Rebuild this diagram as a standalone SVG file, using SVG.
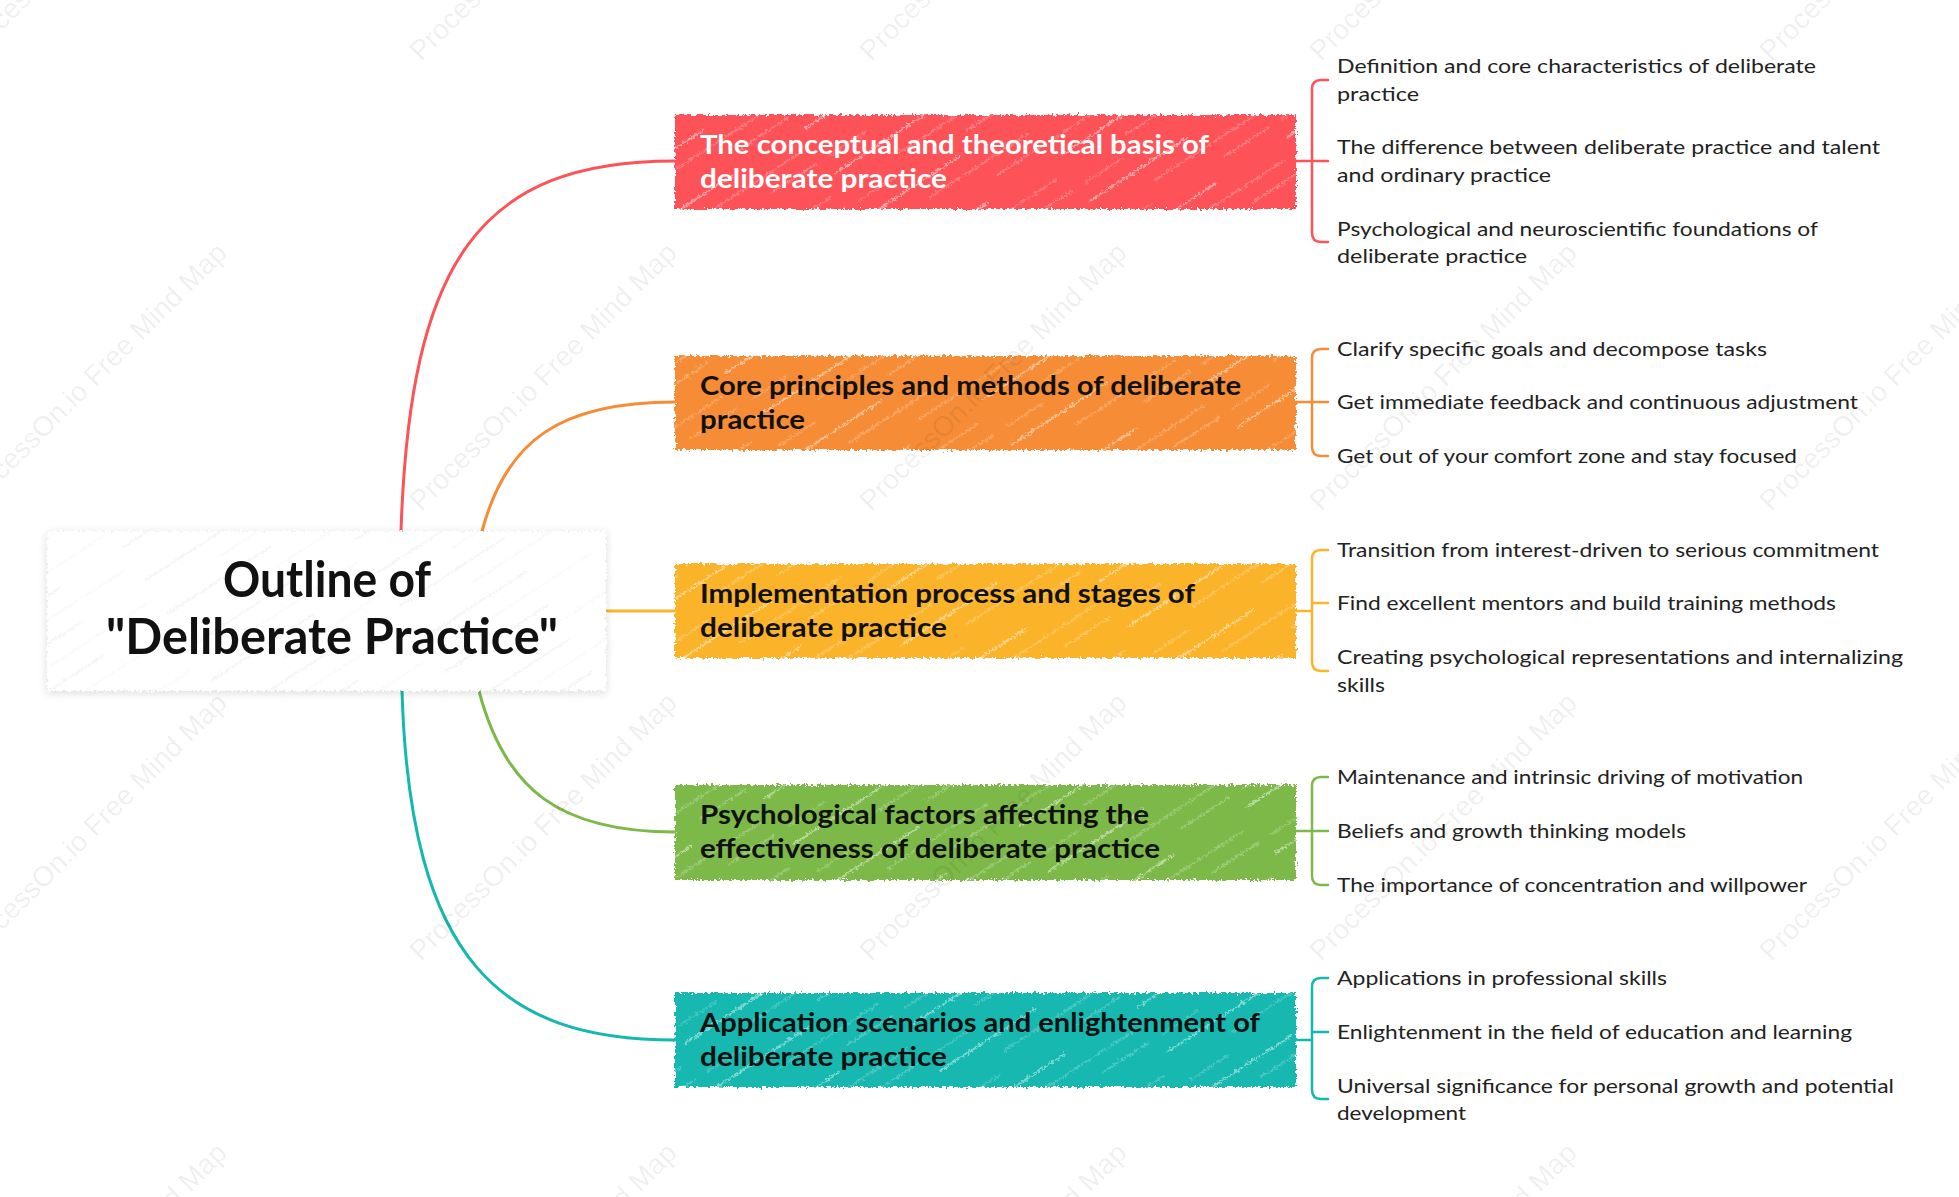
<svg xmlns="http://www.w3.org/2000/svg" width="1959" height="1197" viewBox="0 0 1959 1197">
<defs>
<style>
.child{font-family:Lato,"Liberation Sans",sans-serif;font-size:20px;fill:#222;}
.main{font-family:Lato,"Liberation Sans",sans-serif;font-size:26px;font-weight:bold;fill:#111;}
.main.light{fill:#fff;}
.root{font-family:Lato,"Liberation Sans",sans-serif;font-size:50px;font-weight:bold;fill:#111;}
.conn{fill:none;stroke-width:3;stroke-linecap:round;}
.br{fill:none;stroke-width:2.5;stroke-linecap:round;}
.wm{font-family:"Liberation Sans",Arial,sans-serif;font-size:28px;fill:#000;fill-opacity:0.07;}
</style>
<pattern id="hatch" patternUnits="userSpaceOnUse" width="200" height="54" patternTransform="rotate(-33)">
<line x1="5" y1="6" x2="120" y2="6" stroke="#fff" stroke-opacity="0.6" stroke-width="1.3"/>
<line x1="70" y1="24" x2="190" y2="24" stroke="#fff" stroke-opacity="0.45" stroke-width="1.1"/>
<line x1="140" y1="42" x2="196" y2="42" stroke="#fff" stroke-opacity="0.5" stroke-width="1.1"/>
<line x1="10" y1="42" x2="55" y2="42" stroke="#fff" stroke-opacity="0.4" stroke-width="1"/>
</pattern>
<pattern id="hatchg" patternUnits="userSpaceOnUse" width="200" height="40" patternTransform="rotate(-33)">
<line x1="5" y1="6" x2="130" y2="6" stroke="#000" stroke-opacity="0.05" stroke-width="1.3"/>
<line x1="80" y1="26" x2="195" y2="26" stroke="#000" stroke-opacity="0.04" stroke-width="1.1"/>
</pattern>
<filter id="rough" x="-3%" y="-8%" width="106%" height="116%">
<feTurbulence type="fractalNoise" baseFrequency="0.35" numOctaves="2" seed="4" result="n"/>
<feDisplacementMap in="SourceGraphic" in2="n" scale="7" xChannelSelector="R" yChannelSelector="G"/>
</filter>
<filter id="roughShadow" x="-5%" y="-12%" width="110%" height="124%">
<feTurbulence type="fractalNoise" baseFrequency="0.35" numOctaves="2" seed="7" result="n"/>
<feDisplacementMap in="SourceGraphic" in2="n" scale="6" xChannelSelector="R" yChannelSelector="G" result="d"/>
<feDropShadow dx="0" dy="2" stdDeviation="4" flood-color="#000" flood-opacity="0.14"/>
</filter>
</defs>
<rect width="1959" height="1197" fill="#fff"/>

<g id="connectors">
<path class="conn" stroke="#fd5258" d="M401,531 C410,260 480,161 675,161"/>
<path class="conn" stroke="#f68c36" d="M481,535 C505,440 560,402 675,402"/>
<path class="conn" stroke="#fbb42c" d="M606,611 H675"/>
<path class="conn" stroke="#7db94a" d="M479,691 C505,790 560,832 675,832"/>
<path class="conn" stroke="#13b8af" d="M402,691 C410,960 500,1040 675,1040"/>
<path class="br" stroke="#fd5258" d="M1296,161 H1328 M1328,80 H1321 Q1312,80 1312,89 V233 Q1312,242 1321,242 H1328"/>
<path class="br" stroke="#f68c36" d="M1296,402 H1328 M1328,349 H1321 Q1312,349 1312,358 V447 Q1312,456 1321,456 H1328"/>
<path class="br" stroke="#fbb42c" d="M1296,611 H1312 M1312,603 H1328 M1328,550 H1321 Q1312,550 1312,559 V662 Q1312,671 1321,671 H1328"/>
<path class="br" stroke="#7db94a" d="M1296,831 H1328 M1328,777 H1321 Q1312,777 1312,786 V876 Q1312,885 1321,885 H1328"/>
<path class="br" stroke="#13b8af" d="M1296,1040 H1312 M1312,1032 H1328 M1328,978 H1321 Q1312,978 1312,987 V1090 Q1312,1099 1321,1099 H1328"/>
</g>

<g id="root">
<g filter="url(#roughShadow)">
<rect x="47" y="531" width="559" height="160" fill="#fff"/>
<rect x="47" y="531" width="559" height="160" fill="url(#hatchg)"/>
</g>
<text class="root" x="327" y="597" text-anchor="middle" textLength="208" lengthAdjust="spacingAndGlyphs">Outline of</text>
<text class="root" x="332" y="654" text-anchor="middle" textLength="452" lengthAdjust="spacingAndGlyphs">"Deliberate Practice"</text>
</g>

<g id="n1">
<g filter="url(#rough)"><rect x="675" y="115" width="621" height="94" fill="#fd5258"/><rect x="675" y="115" width="621" height="94" fill="url(#hatch)"/></g>
<text class="main light" x="700" y="154" textLength="509" lengthAdjust="spacingAndGlyphs">The conceptual and theoretical basis of</text>
<text class="main light" x="700" y="188" textLength="247" lengthAdjust="spacingAndGlyphs">deliberate practice</text>
</g>
<g id="n2">
<g filter="url(#rough)"><rect x="675" y="356" width="621" height="94" fill="#f68c36"/><rect x="675" y="356" width="621" height="94" fill="url(#hatch)"/></g>
<text class="main" x="700" y="395" textLength="541" lengthAdjust="spacingAndGlyphs">Core principles and methods of deliberate</text>
<text class="main" x="700" y="429" textLength="105" lengthAdjust="spacingAndGlyphs">practice</text>
</g>
<g id="n3">
<g filter="url(#rough)"><rect x="675" y="564" width="621" height="94" fill="#fbb42c"/><rect x="675" y="564" width="621" height="94" fill="url(#hatch)"/></g>
<text class="main" x="700" y="603" textLength="495" lengthAdjust="spacingAndGlyphs">Implementation process and stages of</text>
<text class="main" x="700" y="637" textLength="247" lengthAdjust="spacingAndGlyphs">deliberate practice</text>
</g>
<g id="n4">
<g filter="url(#rough)"><rect x="675" y="785" width="621" height="95" fill="#7db94a"/><rect x="675" y="785" width="621" height="95" fill="url(#hatch)"/></g>
<text class="main" x="700" y="824" textLength="449" lengthAdjust="spacingAndGlyphs">Psychological factors affecting the</text>
<text class="main" x="700" y="858" textLength="460" lengthAdjust="spacingAndGlyphs">effectiveness of deliberate practice</text>
</g>
<g id="n5">
<g filter="url(#rough)"><rect x="675" y="993" width="621" height="94" fill="#13b8af"/><rect x="675" y="993" width="621" height="94" fill="url(#hatch)"/></g>
<text class="main" x="700" y="1032" textLength="560" lengthAdjust="spacingAndGlyphs">Application scenarios and enlightenment of</text>
<text class="main" x="700" y="1066" textLength="247" lengthAdjust="spacingAndGlyphs">deliberate practice</text>
</g>

<g id="c1a"><text class="child" x="1337" y="73" textLength="479" lengthAdjust="spacingAndGlyphs">Definition and core characteristics of deliberate</text><text class="child" x="1337" y="101" textLength="82" lengthAdjust="spacingAndGlyphs">practice</text></g>
<g id="c1b"><text class="child" x="1337" y="154" textLength="543" lengthAdjust="spacingAndGlyphs">The difference between deliberate practice and talent</text><text class="child" x="1337" y="182" textLength="214" lengthAdjust="spacingAndGlyphs">and ordinary practice</text></g>
<g id="c1c"><text class="child" x="1337" y="236" textLength="481" lengthAdjust="spacingAndGlyphs">Psychological and neuroscientific foundations of</text><text class="child" x="1337" y="263" textLength="190" lengthAdjust="spacingAndGlyphs">deliberate practice</text></g>

<g id="c2a"><text class="child" x="1337" y="356" textLength="430" lengthAdjust="spacingAndGlyphs">Clarify specific goals and decompose tasks</text></g>
<g id="c2b"><text class="child" x="1337" y="409" textLength="521" lengthAdjust="spacingAndGlyphs">Get immediate feedback and continuous adjustment</text></g>
<g id="c2c"><text class="child" x="1337" y="463" textLength="460" lengthAdjust="spacingAndGlyphs">Get out of your comfort zone and stay focused</text></g>

<g id="c3a"><text class="child" x="1337" y="557" textLength="542" lengthAdjust="spacingAndGlyphs">Transition from interest-driven to serious commitment</text></g>
<g id="c3b"><text class="child" x="1337" y="610" textLength="499" lengthAdjust="spacingAndGlyphs">Find excellent mentors and build training methods</text></g>
<g id="c3c"><text class="child" x="1337" y="664" textLength="566" lengthAdjust="spacingAndGlyphs">Creating psychological representations and internalizing</text><text class="child" x="1337" y="692" textLength="48" lengthAdjust="spacingAndGlyphs">skills</text></g>

<g id="c4a"><text class="child" x="1337" y="784" textLength="466" lengthAdjust="spacingAndGlyphs">Maintenance and intrinsic driving of motivation</text></g>
<g id="c4b"><text class="child" x="1337" y="838" textLength="349" lengthAdjust="spacingAndGlyphs">Beliefs and growth thinking models</text></g>
<g id="c4c"><text class="child" x="1337" y="892" textLength="470" lengthAdjust="spacingAndGlyphs">The importance of concentration and willpower</text></g>

<g id="c5a"><text class="child" x="1337" y="985" textLength="330" lengthAdjust="spacingAndGlyphs">Applications in professional skills</text></g>
<g id="c5b"><text class="child" x="1337" y="1039" textLength="515" lengthAdjust="spacingAndGlyphs">Enlightenment in the field of education and learning</text></g>
<g id="c5c"><text class="child" x="1337" y="1093" textLength="557" lengthAdjust="spacingAndGlyphs">Universal significance for personal growth and potential</text><text class="child" x="1337" y="1120" textLength="129" lengthAdjust="spacingAndGlyphs">development</text></g>

<g id="watermarks">
<text class="wm" x="-29" y="62" transform="rotate(-45 -29 62)">ProcessOn.io Free Mind Map</text>
<text class="wm" x="421" y="62" transform="rotate(-45 421 62)">ProcessOn.io Free Mind Map</text>
<text class="wm" x="871" y="62" transform="rotate(-45 871 62)">ProcessOn.io Free Mind Map</text>
<text class="wm" x="1321" y="62" transform="rotate(-45 1321 62)">ProcessOn.io Free Mind Map</text>
<text class="wm" x="1771" y="62" transform="rotate(-45 1771 62)">ProcessOn.io Free Mind Map</text>
<text class="wm" x="-29" y="512" transform="rotate(-45 -29 512)">ProcessOn.io Free Mind Map</text>
<text class="wm" x="421" y="512" transform="rotate(-45 421 512)">ProcessOn.io Free Mind Map</text>
<text class="wm" x="871" y="512" transform="rotate(-45 871 512)">ProcessOn.io Free Mind Map</text>
<text class="wm" x="1321" y="512" transform="rotate(-45 1321 512)">ProcessOn.io Free Mind Map</text>
<text class="wm" x="1771" y="512" transform="rotate(-45 1771 512)">ProcessOn.io Free Mind Map</text>
<text class="wm" x="-29" y="962" transform="rotate(-45 -29 962)">ProcessOn.io Free Mind Map</text>
<text class="wm" x="421" y="962" transform="rotate(-45 421 962)">ProcessOn.io Free Mind Map</text>
<text class="wm" x="871" y="962" transform="rotate(-45 871 962)">ProcessOn.io Free Mind Map</text>
<text class="wm" x="1321" y="962" transform="rotate(-45 1321 962)">ProcessOn.io Free Mind Map</text>
<text class="wm" x="1771" y="962" transform="rotate(-45 1771 962)">ProcessOn.io Free Mind Map</text>
<text class="wm" x="-29" y="1412" transform="rotate(-45 -29 1412)">ProcessOn.io Free Mind Map</text>
<text class="wm" x="421" y="1412" transform="rotate(-45 421 1412)">ProcessOn.io Free Mind Map</text>
<text class="wm" x="871" y="1412" transform="rotate(-45 871 1412)">ProcessOn.io Free Mind Map</text>
<text class="wm" x="1321" y="1412" transform="rotate(-45 1321 1412)">ProcessOn.io Free Mind Map</text>
</g>
</svg>
